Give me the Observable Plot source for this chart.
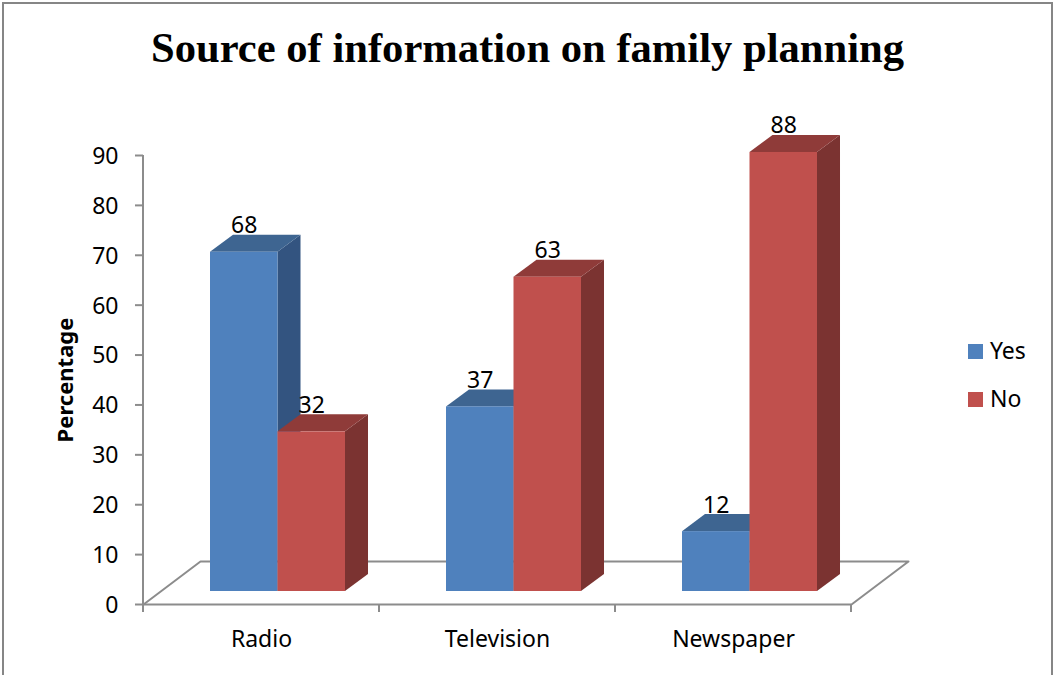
<!DOCTYPE html>
<html>
<head>
<meta charset="utf-8">
<script src="https://cdn.jsdelivr.net/npm/d3@7"></script>
<script src="https://cdn.jsdelivr.net/npm/@observablehq/plot@0.6"></script>
<style>
  html, body { margin: 0; padding: 0; background: #fff; overflow: hidden; }
  #frame { position: relative; width: 1054px; height: 675px; }
  #edge { position: absolute; left: 2px; top: 2px; width: 1047px; height: 680px; border: 2px solid #868686; box-sizing: content-box; }
  #title { position: absolute; left: 0; width: 1055px; top: 23px; text-align: center; white-space: nowrap;
           font: bold 42.6px "Liberation Serif", serif; color: #000; line-height: 50px; }
  #chart { position: absolute; left: 0; top: 90px; }
  #chart svg { display: block; background: none; }
  .key { position: absolute; left: 968px; width: 15px; height: 15px; }
  .keytext { position: absolute; left: 990px; font: 23px "Noto Sans", sans-serif; line-height: 26px; color: #000; }
</style>
</head>
<body>
<div id="frame">
  <div id="edge"></div>
  <div id="title">Source of information on family planning</div>
  <div id="chart"></div>
  <div class="key" style="top:344px;background:#4F81BD"></div>
  <div class="keytext" style="top:337px">Yes</div>
  <div class="key" style="top:392px;background:#C0504D"></div>
  <div class="keytext" style="top:385px">No</div>
</div>
<script>
// Survey results, in percent
const categories = ["Radio", "Television", "Newspaper"];
const yesValues = [68, 37, 12];
const noValues = [32, 63, 88];

// Group ticks fall on the category boundaries
const boundaries = [0, 1, 2, 3];
const centers = [0.5, 1.5, 2.5];
const yTicks = [0, 10, 20, 30, 40, 50, 60, 70, 80, 90];

// Pseudo-3D extrusion, expressed in scale units
const barWidth = 0.286;
const depthX = 0.0975;
const depthY = 3.41;
const floorX = 0.2415;
const floorY = 8.63;
const floor = [[0, 0], [floorX, floorY], [3 + floorX, floorY], [3, 0]];

const gray = "#8C8C8C";
const shift = {dx: 16.5, dy: -13};

// One series becomes a front rectangle, a side parallelogram and a top parallelogram
function prism(values, left, front, top, side) {
  const bars = values.map((v, i) => ({
    key: categories[i],
    x1: centers[i] + left * barWidth,
    x2: centers[i] + (left + 1) * barWidth,
    v
  }));
  const sides = bars.flatMap(b => [
    {key: b.key, x: b.x2, y1: 0, y2: b.v},
    {key: b.key, x: b.x2 + depthX, y1: depthY, y2: b.v + depthY}
  ]);
  const tops = bars.flatMap(b => [
    {key: b.key, y: b.v, x1: b.x1, x2: b.x2},
    {key: b.key, y: b.v + depthY, x1: b.x1 + depthX, x2: b.x2 + depthX}
  ]);
  return {
    bars,
    marks: [
      Plot.areaY(sides, {x: "x", y1: "y1", y2: "y2", z: "key", fill: side, ...shift}),
      Plot.areaX(tops, {y: "y", x1: "x1", x2: "x2", z: "key", fill: top, ...shift}),
      Plot.rectY(bars, {x1: "x1", x2: "x2", y1: 0, y2: "v", fill: front, ...shift})
    ]
  };
}

const yes = prism(yesValues, -1, "#4F81BD", "#3E6591", "#335480");
const no = prism(noValues, 0, "#C0504D", "#8F3B39", "#7B3331");

const valueLabels = series => Plot.text(series.bars, {
  x: b => (b.x1 + b.x2) / 2,
  y: "v",
  text: "v",
  dx: shift.dx,
  dy: shift.dy - 19,
  lineAnchor: "bottom",
  fill: "black",
  fontSize: 23
});

const chart = Plot.plot({
  width: 1054,
  height: 585,
  marginLeft: 143,
  marginRight: 203,
  marginTop: 65,
  marginBottom: 71,
  style: {fontFamily: "'Noto Sans', sans-serif", color: "black", background: "transparent", overflow: "visible"},
  x: {domain: [0, 3]},
  y: {domain: [0, 90]},
  marks: [
    Plot.line(floor, {x: d => d[0], y: d => d[1], stroke: gray, strokeWidth: 2}),
    Plot.ruleX([0], {y1: 0, y2: 90, stroke: gray, strokeWidth: 2, dx: -0.5}),
    Plot.ruleY([0], {x1: 0, x2: 3, stroke: gray, strokeWidth: 2}),
    Plot.axisY({ticks: yTicks, tickSize: 8, tickFormat: () => "", stroke: gray, strokeWidth: 2, label: null}),
    Plot.axisY({ticks: yTicks, tickSize: 0, tickPadding: 25, fill: "black", fontSize: 23, dy: 1, label: null}),
    Plot.axisX({ticks: boundaries, tickSize: 8, tickFormat: () => "", stroke: gray, strokeWidth: 2, dx: -0.5, label: null}),
    Plot.text(categories, {x: (d, i) => centers[i], y: 0, dy: 35, fill: "black", fontSize: 23}),
    Plot.text(["Percentage"], {
      frameAnchor: "left", y: 45, dx: -78, rotate: -90, textAnchor: "middle",
      fontWeight: "bold", fontSize: 22, fill: "black"
    }),
    ...yes.marks,
    ...no.marks,
    valueLabels(yes),
    valueLabels(no)
  ]
});
document.getElementById("chart").append(chart);
</script>
</body>
</html>
